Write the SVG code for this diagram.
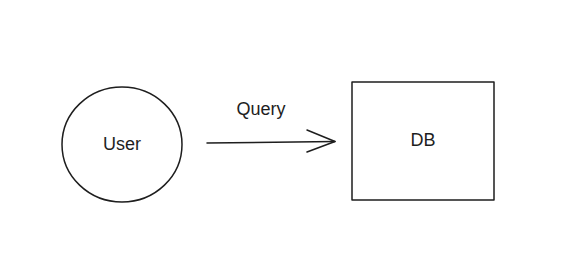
<svg xmlns="http://www.w3.org/2000/svg" width="566" height="267" viewBox="0 0 566 267">
<style>
.s{fill:none;stroke:#1e1e1e;stroke-width:1.5;stroke-linecap:round;stroke-linejoin:round}
.t{font-family:"Liberation Sans",sans-serif;font-size:18px;fill:#1e1e1e;text-anchor:middle;dominant-baseline:central}
</style>
<rect width="566" height="267" fill="#ffffff"/>
<g id="user">
<ellipse class="s" cx="122" cy="144.5" rx="60" ry="57.5"/>
<text class="t" x="122" y="144">User</text>
</g>
<g id="db">
<rect class="s" x="352" y="82" width="142" height="118"/>
<text class="t" x="423" y="140">DB</text>
</g>
<g id="connectors">
<path class="s" d="M207 143 L335 141.5"/>
<path class="s" d="M307 130 L335 141.5 L307 152"/>
<text class="t" x="261" y="109">Query</text>
</g>
</svg>
